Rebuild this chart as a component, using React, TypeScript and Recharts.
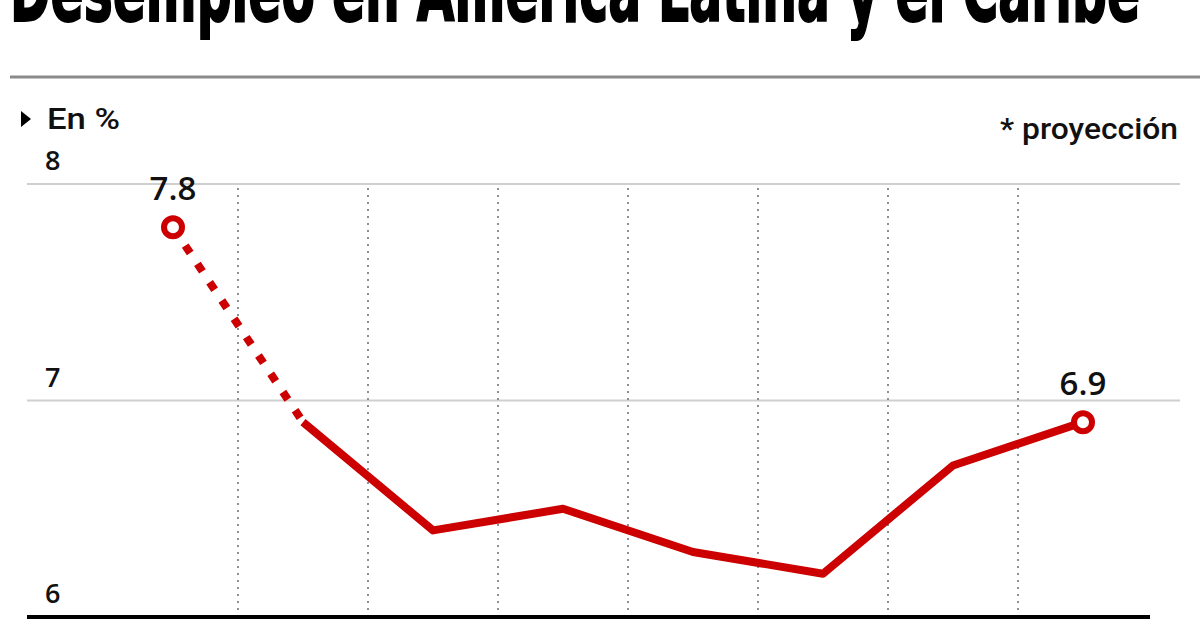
import React from 'react';
import { LineChart, Line, XAxis, YAxis, CartesianGrid, ReferenceLine } from 'recharts';

const TITLE = 'Desempleo en América Latina y el Caribe';
const UNIT_LABEL = 'En %';
const NOTE = '* proyección';
const years = ['2009', '2011', '2012', '2013', '2014', '2015', '2016', '2017*'];
const values = [7.8, 6.9, 6.4, 6.5, 6.3, 6.2, 6.7, 6.9];
const dashedUntil = 1; // segment 0 -> 1 is dotted
const yTicks = [6, 7, 8];
const gridValues = [7, 8];

const RED = '#cc0000';

const data = years.map((y, i) => ({
  i,
  year: y,
  dotted: i <= dashedUntil ? values[i] : null,
  solid: i >= dashedUntil ? values[i] : null,
}));

const separators = years.slice(1).map((_, k) => k + 0.5);

const EndDot = (which: 'first' | 'last') => (props: any) => {
  const { cx, cy, index } = props;
  const target = which === 'first' ? 0 : values.length - 1;
  if (index !== target || cx == null || cy == null) return <g key={`d-${which}-${index}`} />;
  return (
    <g key={`d-${which}-${index}`}>
      <circle cx={cx} cy={cy} r={9} fill="#fff" stroke={RED} strokeWidth={6} />
      <text
        x={cx}
        y={cy - 27}
        textAnchor="middle"
        fontFamily="'Open Sans', 'Noto Sans', sans-serif"
        fontSize={33}
        fontWeight={600}
        fill="#111"
      >
        {values[index].toFixed(1)}
      </text>
    </g>
  );
};

const YTick = (props: any) => {
  const { x, y, payload } = props;
  return (
    <text
      x={x + 18}
      y={y - 14}
      textAnchor="start"
      fontFamily="'Open Sans', 'Noto Sans', sans-serif"
      fontSize={27}
      fontWeight={600}
      fill="#111"
    >
      {payload.value}
    </text>
  );
};

const XTick = (props: any) => {
  const { x, y, payload } = props;
  return (
    <text
      x={x}
      y={y + 35}
      textAnchor="middle"
      fontFamily="'Open Sans', 'Noto Sans', sans-serif"
      fontSize={28}
      fontWeight={600}
      fill="#111"
    >
      {years[payload.value]}
    </text>
  );
};

const HGrid = (props: any) => {
  const { x1, x2, y1, y2, index } = props;
  return <line key={`hg-${index}`} x1={x1} x2={x2 + 30} y1={y1} y2={y2} stroke="#cfcfcf" strokeWidth={2} />;
};

export default function App() {
  return (
    <div style={{ position: 'absolute', left: 0, top: 0, width: 1200, height: 630, background: '#fff', overflow: 'hidden' }}>
      <svg width={1200} height={184} style={{ position: 'absolute', left: 0, top: 0 }}>
        <text
          x={10}
          y={21}
          textLength={1130}
          lengthAdjust="spacingAndGlyphs"
          fontFamily="'DejaVu Sans Condensed', 'DejaVu Sans', sans-serif"
          fontWeight={900}
          fontSize={88}
          fill="#000"
          stroke="#000"
          strokeWidth={2}
        >
          {TITLE}
        </text>
        <line x1={10} x2={1200} y1={77} y2={77} stroke="#8a8a8a" strokeWidth={3} />
        <path d="M21 111 L31 119 L21 127 Z" fill="#000" />
        <text
          x={47}
          y={129}
          textLength={73}
          lengthAdjust="spacingAndGlyphs"
          fontFamily="Roboto, 'Noto Sans', sans-serif"
          fontWeight={500}
          fontSize={29}
          fill="#111"
        >
          {UNIT_LABEL}
        </text>
        <text
          x={1000}
          y={139}
          textLength={178}
          lengthAdjust="spacingAndGlyphs"
          fontFamily="Roboto, 'Noto Sans', sans-serif"
          fontWeight={500}
          fontSize={29}
          fill="#111"
        >
          {NOTE}
        </text>
      </svg>
      <div style={{ position: 'absolute', left: 0, top: 0 }}>
        <LineChart width={1200} height={630} data={data} margin={{ top: 184, right: 50, bottom: 0, left: 0 }}>
          <CartesianGrid vertical={false} horizontalValues={gridValues} horizontal={HGrid} />
          <XAxis
            type="number"
            dataKey="i"
            domain={[-0.5, values.length - 0.5]}
            ticks={years.map((_, i) => i)}
            padding={{ left: 81, right: 2 }}
            height={13}
            tickSize={0}
            tickMargin={0}
            tickLine={false}
            axisLine={{ stroke: '#000', strokeWidth: 4 }}
            tick={XTick}
            interval={0}
            allowDataOverflow
          />
          <YAxis
            type="number"
            domain={[6, 8]}
            ticks={yTicks}
            width={27}
            tickSize={0}
            tickMargin={0}
            axisLine={false}
            tickLine={false}
            tick={YTick}
            interval={0}
          />
          {separators.map((s) => (
            <ReferenceLine key={`sep-${s}`} x={s} stroke="#8f8f8f" strokeWidth={2} strokeDasharray="2 5" />
          ))}
          <Line
            type="linear"
            dataKey="dotted"
            stroke={RED}
            strokeWidth={8}
            strokeDasharray="9 13"
            strokeLinecap="butt"
            dot={EndDot('first')}
            activeDot={false}
            isAnimationActive={false}
            connectNulls={false}
          />
          <Line
            type="linear"
            dataKey="solid"
            stroke={RED}
            strokeWidth={8}
            strokeLinejoin="round"
            dot={EndDot('last')}
            activeDot={false}
            isAnimationActive={false}
            connectNulls={false}
          />
        </LineChart>
      </div>
    </div>
  );
}
